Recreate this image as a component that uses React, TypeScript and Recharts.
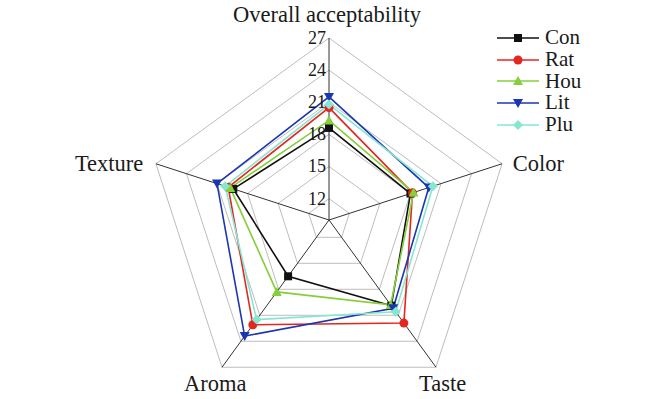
import {
  RadarChart,
  Radar,
  PolarGrid,
  PolarAngleAxis,
  PolarRadiusAxis,
  Legend,
} from 'recharts'

const categories = ['Overall acceptability', 'Color', 'Taste', 'Aroma', 'Texture']
const radiusTicks = [12, 15, 18, 21, 24, 27]

const con = [18.6, 18.0, 19.9, 16.5, 19.4]
const rat = [20.5, 18.2, 21.9, 22.1, 19.9]
const hou = [19.3, 18.3, 19.8, 18.3, 19.7]
const lit = [21.5, 19.8, 20.2, 23.4, 21.0]
const plu = [20.8, 20.2, 20.6, 21.5, 20.2]

type Shape = 'square' | 'circle' | 'triUp' | 'triDown' | 'diamond'

const SERIES: { key: string; values: number[]; color: string; shape: Shape }[] = [
  { key: 'Con', values: con, color: '#111111', shape: 'square' },
  { key: 'Rat', values: rat, color: '#e3261f', shape: 'circle' },
  { key: 'Hou', values: hou, color: '#84d03a', shape: 'triUp' },
  { key: 'Lit', values: lit, color: '#1c36b0', shape: 'triDown' },
  { key: 'Plu', values: plu, color: '#86e6d2', shape: 'diamond' },
]

const data = categories.map((name, i) => {
  const row: Record<string, string | number> = { name }
  SERIES.forEach((s) => (row[s.key] = s.values[i]))
  return row
})

const FONT = '"Liberation Serif", "DejaVu Serif", serif'

// label placement relative to the angle axis tick point
const LABEL_POS: Record<string, { dx: number; dy: number; anchor: 'start' | 'middle' | 'end' }> = {
  'Overall acceptability': { dx: -2, dy: -8, anchor: 'middle' },
  Color: { dx: 3, dy: 10, anchor: 'start' },
  Taste: { dx: 2, dy: 17, anchor: 'middle' },
  Aroma: { dx: -2, dy: 17, anchor: 'middle' },
  Texture: { dx: -5, dy: 10, anchor: 'end' },
}

function Marker({ shape, color, cx, cy, s = 4 }: { shape: Shape; color: string; cx: number; cy: number; s?: number }) {
  if (shape === 'square')
    return <rect x={cx - s} y={cy - s} width={s * 2} height={s * 2} fill={color} />
  if (shape === 'circle') return <circle cx={cx} cy={cy} r={s + 0.5} fill={color} />
  if (shape === 'triUp')
    return <polygon points={`${cx},${cy - s - 1} ${cx + s + 1},${cy + s} ${cx - s - 1},${cy + s}`} fill={color} />
  if (shape === 'triDown')
    return <polygon points={`${cx},${cy + s + 1} ${cx + s + 1},${cy - s} ${cx - s - 1},${cy - s}`} fill={color} />
  return <polygon points={`${cx},${cy - s - 1} ${cx + s + 1},${cy} ${cx},${cy + s + 1} ${cx - s - 1},${cy}`} fill={color} />
}

const AngleTick = (props: any) => {
  const { x, y, payload } = props
  const p = LABEL_POS[payload.value] ?? { dx: 0, dy: 0, anchor: 'middle' }
  return (
    <text x={x + p.dx} y={y + p.dy} textAnchor={p.anchor} fontFamily={FONT} fontSize={22.5} fill="#1a1a1a">
      {payload.value}
    </text>
  )
}

const RadiusTick = (props: any) => {
  const { x, y, payload } = props
  return (
    <text x={x - 3} y={y} textAnchor="end" dominantBaseline="central" fontFamily={FONT} fontSize={18} fill="#1a1a1a">
      {payload.value}
    </text>
  )
}

const LegendBox = () => (
  <div style={{ fontFamily: FONT, fontSize: 21, color: '#1a1a1a' }}>
    {SERIES.map((s) => (
      <div key={s.key} style={{ display: 'flex', alignItems: 'center', height: 21.7 }}>
        <svg width={46} height={14} style={{ marginRight: 4 }}>
          <line x1={2} y1={7} x2={44} y2={7} stroke={s.color} strokeWidth={1.5} />
          <Marker shape={s.shape} color={s.color} cx={23} cy={7} />
        </svg>
        <span style={{ lineHeight: '21px' }}>{s.key}</span>
      </div>
    ))}
  </div>
)

export default function App() {
  return (
    <div style={{ position: 'absolute', left: 0, top: 0, background: '#fff' }}>
      <RadarChart width={660} height={399} data={data} cx={329} cy={220} outerRadius={182}>
        <PolarGrid gridType="polygon" radialLines={false} stroke="#bdbdbd" strokeWidth={1} />
        <PolarGrid gridType="polygon" polarRadius={[0]} stroke="#333333" strokeWidth={1} />
        <PolarAngleAxis dataKey="name" tick={AngleTick} tickLine={false} axisLine={false} />
        <PolarRadiusAxis
          angle={90}
          type="number"
          domain={[10, 27]}
          ticks={radiusTicks}
          axisLine={false}
          tickLine={false}
          tick={RadiusTick}
        />
        {SERIES.map((s) => (
          <Radar
            key={s.key}
            name={s.key}
            dataKey={s.key}
            stroke={s.color}
            strokeWidth={1.6}
            fill="none"
            fillOpacity={0}
            isAnimationActive={false}
            dot={(p: any) => <Marker key={`${s.key}-${p.index}`} shape={s.shape} color={s.color} cx={p.cx} cy={p.cy} />}
          />
        ))}
        <Legend
          content={LegendBox}
          wrapperStyle={{ position: 'absolute', left: 495, top: 27, width: 120 }}
        />
      </RadarChart>
    </div>
  )
}
